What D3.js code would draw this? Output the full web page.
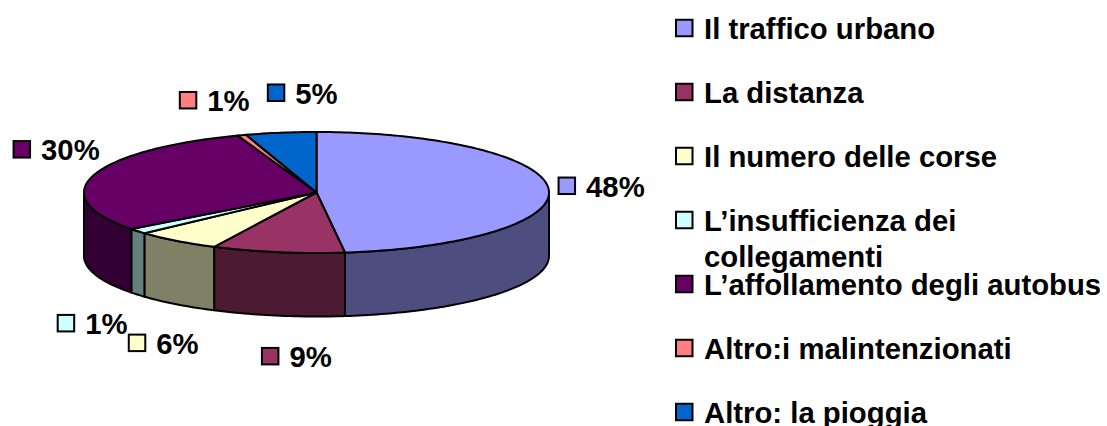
<!DOCTYPE html>
<html>
<head>
<meta charset="utf-8">
<script src="https://cdn.jsdelivr.net/npm/d3@7"></script>
<style>
html,body{margin:0;padding:0;background:#fff;}
svg{display:block;}
text{font-family:"Liberation Sans",Arial,sans-serif;font-weight:bold;fill:#000;}
</style>
</head>
<body>
<div id="chart"></div>
<script>
const categories = ["Il traffico urbano","La distanza","Il numero delle corse","L’insufficienza dei collegamenti","L’affollamento degli autobus","Altro:i malintenzionati","Altro: la pioggia"];
const values = [48,9.2,6,1.4,29.8,0.6,4.9];
const valueLabels = ["48%","9%","6%","1%","30%","1%","5%"];
const colors = ["#9999FF","#993366","#FFFFCC","#CCFFFF","#660066","#FF8080","#0066CC"];
const wallColors = ["#4D4D80","#4D1A33","#808066","#668080","#330033","#804040","#003366"];
const labelNudges = [[9,-3],[-17,104],[-49,102],[-81,92],[-81,-26],[-63,-35],[-14,-40]];
const legendLines = [["Il traffico urbano"],["La distanza"],["Il numero delle corse"],["L’insufficienza dei","collegamenti"],["L’affollamento degli autobus"],["Altro:i malintenzionati"],["Altro: la pioggia"]];

const W=1107,H=426,cx=316.5,cy=192.5,rx=232.5,ry=60.5,depth=63.5,fs=29.3,sw=16.5;
const svg=d3.select("#chart").append("svg").attr("width",W).attr("height",H);
const px=d3.scaleLinear().domain([-1,1]).range([cx-rx,cx+rx]);
const py=d3.scaleLinear().domain([-1,1]).range([cy+ry,cy-ry]);
const slices=d3.pie().sort(null).value(d=>d)(values);
const P=a=>[px(Math.sin(a)),py(Math.cos(a))];
const arcPts=(a0,a1)=>{const n=Math.max(2,Math.ceil((a1-a0)/0.02));return d3.range(n+1).map(i=>P(a0+(a1-a0)*i/n));};
const line=d3.line();

// side walls (only the front half of the rim is visible)
slices.forEach((s,i)=>{
  const a0=Math.max(s.startAngle,Math.PI/2),a1=Math.min(s.endAngle,Math.PI*1.5);
  if(a1<=a0)return;
  const top=arcPts(a0,a1);
  const bottom=top.map(p=>[p[0],p[1]+depth]).reverse();
  svg.append("path").attr("d",line(top.concat(bottom))+"Z")
    .attr("fill",wallColors[i]).attr("stroke","#000").attr("stroke-width",2).attr("stroke-linejoin","round");
});
// top faces
slices.forEach((s,i)=>{
  const pts=[[px(0),py(0)]].concat(arcPts(s.startAngle,s.endAngle));
  svg.append("path").attr("d",line(pts)+"Z")
    .attr("fill",colors[i]).attr("stroke","#000").attr("stroke-width",2).attr("stroke-linejoin","round");
});
// data labels
const swatch=(g,x,y,c)=>g.append("rect").attr("x",x+1).attr("y",y-sw/2).attr("width",sw).attr("height",sw)
  .attr("fill",c).attr("stroke","#000").attr("stroke-width",2);
slices.forEach((s,i)=>{
  const [ax,ay]=P((s.startAngle+s.endAngle)/2);
  const x=ax+labelNudges[i][0],y=ay+labelNudges[i][1];
  swatch(svg,x,y,colors[i]);
  svg.append("text").attr("x",x+28.5).attr("y",y+11).attr("font-size",fs).text(valueLabels[i]);
});
// legend
const rows=d3.scalePoint().domain(categories).range([28,412]);
categories.forEach((c,i)=>{
  const y=rows(c);
  swatch(svg,675,y,colors[i]);
  const t=svg.append("text").attr("font-size",fs);
  legendLines[i].forEach((l,j)=>t.append("tspan").attr("x",704).attr("y",y+11+j*36).text(l));
});
</script>
</body>
</html>
